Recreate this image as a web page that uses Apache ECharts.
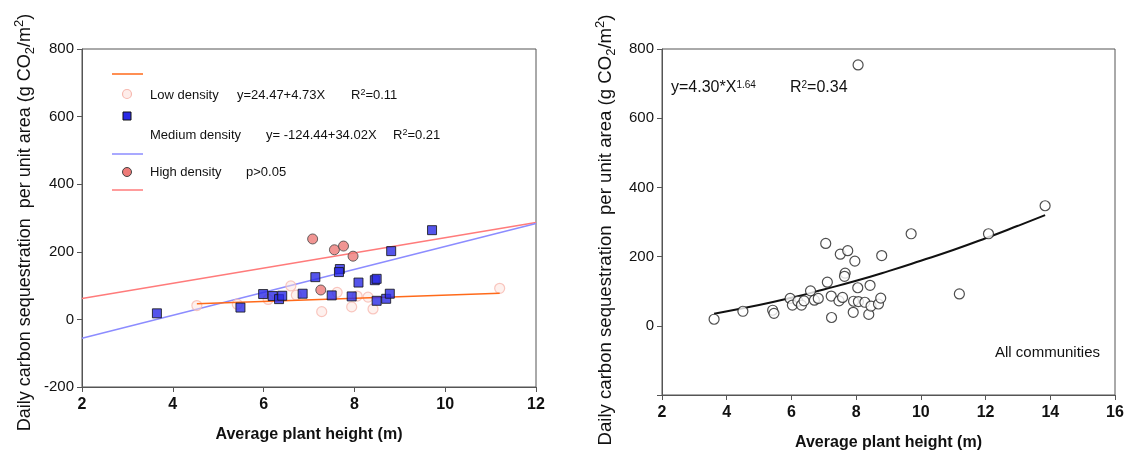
<!DOCTYPE html>
<html>
<head>
<meta charset="utf-8">
<script src="https://cdn.jsdelivr.net/npm/echarts@6/dist/echarts.min.js"></script>
<style>html,body{margin:0;padding:0;background:#fff}#c{width:1128px;height:457px}</style>
</head>
<body>
<div id="c"></div>
<script>
// ---- data ----
const lowDensity = [[4.53,41],[5.42,45],[6.10,59],[6.60,99],[6.72,72],[7.28,23],[7.62,80],[7.94,37],[8.06,69],[8.30,66],[8.41,31],[11.20,92]];
const mediumDensity = [[3.65,18],[5.49,35],[5.99,75],[6.20,69],[6.34,60],[6.41,70],[6.86,76],[7.14,125],[7.50,71],[7.68,149],[7.66,140],[7.94,68],[8.09,109],[8.45,116],[8.49,120],[8.49,55],[8.70,61],[8.78,76],[8.81,202],[9.71,264]];
const highDensity = [[7.08,238],[7.56,206],[7.76,217],[7.97,187],[7.26,87]];
const lowFit = [[4.53,46],[11.20,77]];
const mediumFit = [[2,-56],[12,284]];
const highFit = [[2,62],[12,287]];
const allCommunities = [[3.61,19],[4.50,42],[5.42,45],[5.46,36],[5.96,79],[6.03,60],[6.20,71],[6.31,60],[6.39,72],[6.59,101],[6.71,74],[6.83,79],[7.06,238],[7.11,126],[7.23,86],[7.24,24],[7.47,72],[7.51,207],[7.58,82],[7.66,152],[7.64,143],[7.74,217],[7.92,71],[7.91,39],[7.96,187],[8.05,110],[8.07,70],[8.27,68],[8.39,33],[8.43,117],[8.46,57],[8.69,63],[8.76,80],[8.79,203],[9.70,266],[11.19,92],[12.09,266],[13.84,347],[8.06,754]];
const powerFit = [[3.61,35],[5,60],[6,81],[7,105],[8,130],[9,158],[10,188],[11,219],[12,253],[13,289],[13.84,320]];
const leftXTicks = {min:2, max:12, interval:2};
const rightXTicks = {min:2, max:16, interval:2};
const yTicks = {min:-200, max:800, interval:200};

const FONT = 'Liberation Sans, Arial, sans-serif';
const yName = 'Daily carbon sequestration  per unit area (g CO{sub|2}/m{sup|2})';
function yNameStyle(size, pad){
  return {fontSize:size, fontFamily:FONT, color:'#111', lineHeight:24, padding:[0,pad,0,0],
    rich:{sub:{fontSize:13, fontFamily:FONT, color:'#111', lineHeight:12, verticalAlign:'bottom'},
          sup:{fontSize:13, fontFamily:FONT, color:'#111', lineHeight:12, verticalAlign:'top'}}};
}
const axisCommon = {
  axisLine:{show:true, onZero:false, lineStyle:{color:'#555', width:1}},
  axisTick:{show:true, inside:false, length:5, lineStyle:{color:'#555'}},
  splitLine:{show:false}
};
function xAx(idx, t){
  return Object.assign({type:'value', gridIndex:idx, min:t.min, max:t.max, interval:t.interval,
    name:'Average plant height (m)', nameLocation:'middle', nameGap:40,
    nameTextStyle:{fontSize:16, fontWeight:'bold', fontFamily:FONT, color:'#111'},
    axisLabel:{fontSize:16, fontWeight:'bold', fontFamily:FONT, color:'#111', margin:10}}, axisCommon);
}
function yAx(idx, hideMin, size, gap, pad){
  return Object.assign({type:'value', gridIndex:idx, min:yTicks.min, max:yTicks.max, interval:yTicks.interval,
    name:yName, nameLocation:'middle', nameGap:gap, nameTextStyle:yNameStyle(size, pad),
    axisLabel:{fontSize:15, fontFamily:FONT, color:'#111', margin:8,
      formatter: v => (hideMin && v === yTicks.min) ? '' : String(v)}}, axisCommon);
}

const chart = echarts.init(document.getElementById('c'), null, {renderer:'canvas'});
const legendTxt = (x, y, text) => ({type:'text', x, y, style:{text, fontSize:13, fontFamily:FONT, fill:'#111', verticalAlign:'middle',
  rich:{sup:{fontSize:9, fontFamily:FONT, fill:'#111', verticalAlign:'top', lineHeight:8}}}, z:100});
const legendLine = (y, color) => ({type:'line', shape:{x1:112, y1:y, x2:143, y2:y}, style:{stroke:color, lineWidth:1.5}, z:100});

chart.setOption({
  animation:false,
  backgroundColor:'#fff',
  grid:[
    {left:82, top:49, width:454, height:338, show:true, borderColor:'#555', borderWidth:1, backgroundColor:'transparent', outerBoundsMode:'none', containLabel:false},
    {left:662, top:49, width:453, height:346, show:true, borderColor:'#555', borderWidth:1, backgroundColor:'transparent', outerBoundsMode:'none', containLabel:false}
  ],
  xAxis:[xAx(0, leftXTicks), xAx(1, rightXTicks)],
  yAxis:[yAx(0,false,18,45,9), yAx(1,true,18.6,44,16)],
  series:[
    {type:'line', xAxisIndex:0, yAxisIndex:0, data:highFit, showSymbol:false, lineStyle:{color:'#ff7b7b', width:1.5}, z:2},
    {type:'line', xAxisIndex:0, yAxisIndex:0, data:mediumFit, showSymbol:false, lineStyle:{color:'#8c8cff', width:1.5}, z:2},
    {type:'scatter', xAxisIndex:0, yAxisIndex:0, data:lowDensity, symbol:'circle', symbolSize:10,
      itemStyle:{color:'rgba(253,225,220,0.6)', borderColor:'#f7b9b0', borderWidth:1.2}, z:3},
    {type:'line', xAxisIndex:0, yAxisIndex:0, data:lowFit, showSymbol:false, lineStyle:{color:'#ff6a1a', width:1.5}, z:4},
    {type:'scatter', xAxisIndex:0, yAxisIndex:0, data:highDensity, symbol:'circle', symbolSize:10,
      itemStyle:{color:'#ee7b78', borderColor:'#444', borderWidth:1}, z:5},
    {type:'scatter', xAxisIndex:0, yAxisIndex:0, data:mediumDensity, symbol:'rect', symbolSize:9,
      itemStyle:{color:'#2a2ae6', borderColor:'#111', borderWidth:1}, z:6},
    {type:'line', xAxisIndex:1, yAxisIndex:1, data:powerFit, showSymbol:false, smooth:true, lineStyle:{color:'#111', width:2}, z:2},
    {type:'scatter', xAxisIndex:1, yAxisIndex:1, data:allCommunities, symbol:'circle', symbolSize:10,
      itemStyle:{color:'#fff', borderColor:'#222', borderWidth:1.2}, z:3}
  ],
  graphic:[
    legendLine(74, '#ff6a1a'),
    {type:'circle', shape:{cx:127, cy:94, r:4.5}, style:{fill:'rgba(253,225,220,0.6)', stroke:'#f7b9b0', lineWidth:1.2}, z:100},
    legendTxt(150, 95, 'Low density'),
    legendTxt(237, 95, 'y=24.47+4.73X'),
    legendTxt(351, 95, 'R{sup|2}=0.11'),
    {type:'rect', shape:{x:123, y:112, width:8, height:8}, style:{fill:'#2a2ae6', stroke:'#111', lineWidth:1}, z:100},
    legendTxt(150, 135, 'Medium density'),
    legendTxt(266, 135, 'y= -124.44+34.02X'),
    legendTxt(393, 135, 'R{sup|2}=0.21'),
    legendLine(154, '#8c8cff'),
    {type:'circle', shape:{cx:127, cy:172, r:4.5}, style:{fill:'#ee7b78', stroke:'#444', lineWidth:1}, z:100},
    legendTxt(150, 172, 'High density'),
    legendTxt(246, 172, 'p>0.05'),
    legendLine(190, '#ff7b7b'),
    {type:'text', x:671, y:88, style:{text:'y=4.30*X{sup|1.64}', fontSize:16, fontFamily:FONT, fill:'#111', verticalAlign:'middle',
      rich:{sup:{fontSize:10, fontFamily:FONT, fill:'#111', verticalAlign:'top', lineHeight:8}}}, z:100},
    {type:'text', x:790, y:88, style:{text:'R{sup|2}=0.34', fontSize:16, fontFamily:FONT, fill:'#111', verticalAlign:'middle',
      rich:{sup:{fontSize:10, fontFamily:FONT, fill:'#111', verticalAlign:'top', lineHeight:8}}}, z:100},
    {type:'text', x:1100, y:353, style:{text:'All communities', fontSize:15, fontFamily:FONT, fill:'#111', align:'right', verticalAlign:'middle'}, z:100}
  ]
});
</script>
</body>
</html>
